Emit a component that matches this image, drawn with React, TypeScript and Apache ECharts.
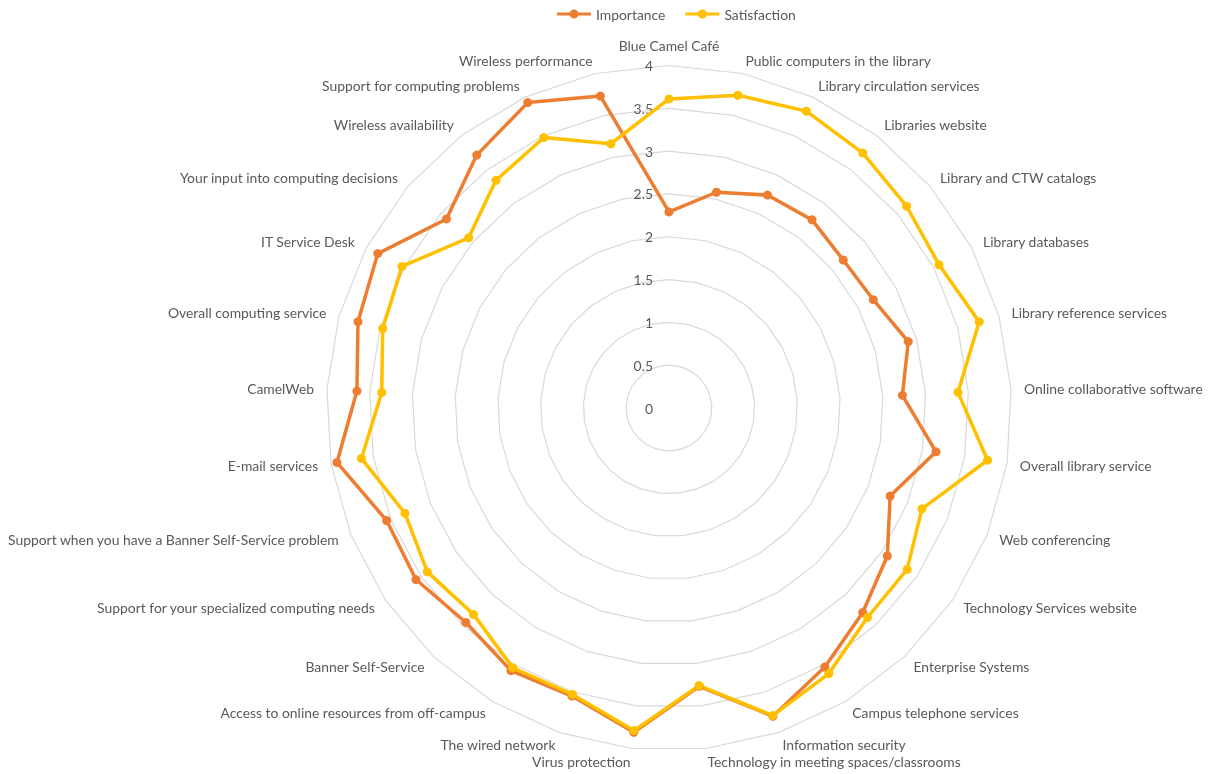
import React, { useEffect, useRef } from "react";
import * as echarts from "echarts";

const categories = [
  "Blue Camel Café",
  "Public computers in the library",
  "Library circulation services",
  "Libraries website",
  "Library and CTW catalogs",
  "Library databases",
  "Library reference services",
  "Online collaborative software",
  "Overall library service",
  "Web conferencing",
  "Technology Services website",
  "Enterprise Systems",
  "Campus telephone services",
  "Information security",
  "Technology in meeting spaces/classrooms",
  "Virus protection",
  "The wired network",
  "Access to online resources from off-campus",
  "Banner Self-Service",
  "Support for your specialized computing needs",
  "Support when you have a Banner Self-Service problem",
  "E-mail services",
  "CamelWeb",
  "Overall computing service",
  "IT Service Desk",
  "Your input into computing decisions",
  "Wireless availability",
  "Support for computing problems",
  "Wireless performance",
];

const importance = [
  2.29, 2.58, 2.74, 2.76, 2.67, 2.7, 2.9, 2.73, 3.16, 2.78, 3.08, 3.29, 3.53,
  3.8, 3.27, 3.81, 3.55, 3.58, 3.45, 3.57, 3.55, 3.93, 3.65, 3.77, 3.85, 3.41,
  3.71, 3.93, 3.73,
];

const satisfaction = [
  3.61, 3.74, 3.82, 3.74, 3.64, 3.57, 3.76, 3.38, 3.77, 3.18, 3.36, 3.37, 3.62,
  3.79, 3.26, 3.79, 3.53, 3.54, 3.32, 3.41, 3.32, 3.64, 3.36, 3.47, 3.53, 3.07,
  3.34, 3.48, 3.16,
];

const seriesNames = ["Importance", "Satisfaction"];
const axisMin = 0;
const axisMax = 4;
const axisStep = 0.5;

// ECharts radar lays indicators counter-clockwise; reorder to draw clockwise.
function clockwise<T>(arr: T[]): T[] {
  return [arr[0], ...arr.slice(1).reverse()];
}

const legendIcon =
  "path://M0,3.5H12.76A4.5,4.5,0,0,1,21.24,3.5H34V6.5H21.24A4.5,4.5,0,0,1,12.76,6.5H0Z";

export default function App() {
  const ref = useRef<HTMLDivElement>(null);
  useEffect(() => {
    if (!ref.current) return;
    const chart = echarts.init(ref.current, null, { renderer: "svg" });
    const font = "Lato";
    const textColor = "#595959";
    const fontSize = 13.9;
    const center = [669, 408];
    const radius = 342.5;
    chart.setOption({
      animation: false,
      color: ["#ED7D31", "#FFC000"],
      textStyle: { fontFamily: font },
      legend: {
        top: 2,
        left: 552,
        itemWidth: 34,
        itemHeight: 10,
        itemGap: 20,
        icon: legendIcon,
        textStyle: { color: textColor, fontSize, fontFamily: font },
        data: seriesNames,
      },
      radar: {
        center,
        radius,
        startAngle: 90,
        shape: "polygon",
        splitNumber: (axisMax - axisMin) / axisStep,
        nameGap: 13,
        axisName: { color: textColor, fontSize, fontFamily: font },
        axisLine: { show: false },
        axisTick: { show: false },
        axisLabel: { show: false },
        splitLine: { lineStyle: { color: "#D9D9D9", width: 1.2 } },
        splitArea: { show: false },
        indicator: clockwise(categories).map((name) => ({
          name,
          min: axisMin,
          max: axisMax,
        })),
      },
      polar: { center, radius },
      angleAxis: {
        show: false,
        startAngle: 90,
        min: 0,
        max: 360,
      },
      radiusAxis: {
        min: axisMin,
        max: axisMax,
        interval: axisStep,
        axisLine: { show: false },
        axisTick: { show: false },
        splitLine: { show: false },
        axisLabel: { color: textColor, fontSize, fontFamily: font, margin: 16 },
      },
      series: [
        {
          type: "radar",
          symbol: "circle",
          symbolSize: 9,
          lineStyle: { width: 3.5 },
          data: [
            {
              name: seriesNames[0],
              value: clockwise(importance),
              itemStyle: { color: "#ED7D31" },
              lineStyle: { color: "#ED7D31", width: 3.5 },
            },
            {
              name: seriesNames[1],
              value: clockwise(satisfaction),
              itemStyle: { color: "#FFC000" },
              lineStyle: { color: "#FFC000", width: 3.5 },
            },
          ],
        },
      ],
    });
    return () => chart.dispose();
  }, []);
  return (
    <div
      ref={ref}
      style={{ position: "fixed", left: 0, top: 0, width: 1210, height: 774 }}
    />
  );
}
